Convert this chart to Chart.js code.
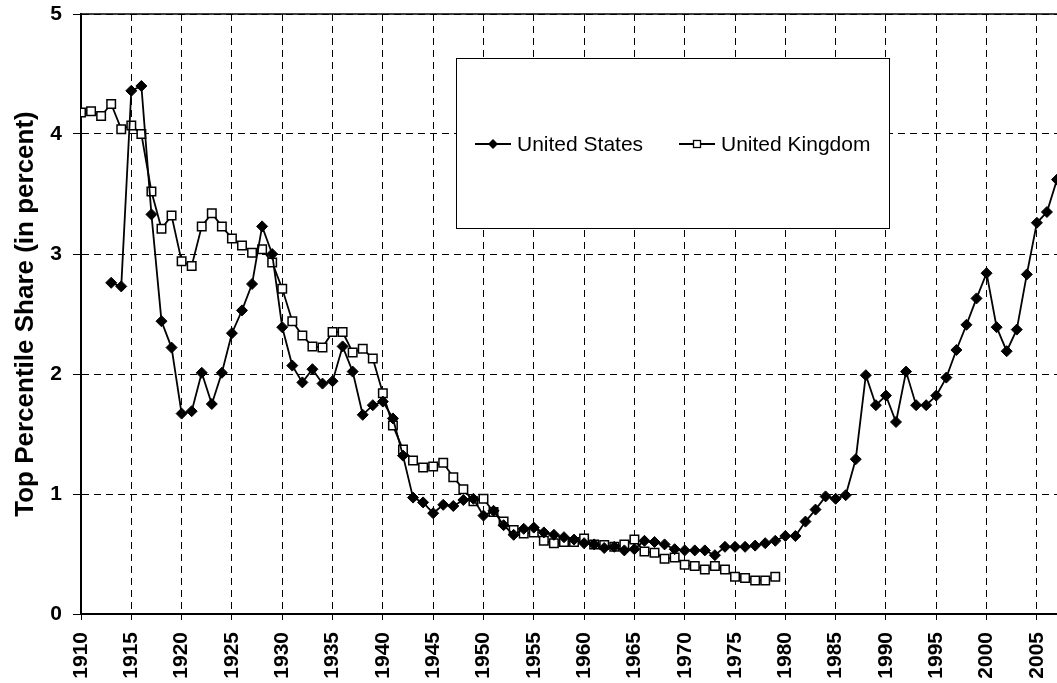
<!DOCTYPE html>
<html>
<head>
<meta charset="utf-8">
<script src="https://cdn.jsdelivr.net/npm/chart.js@4"></script>
<style>
  html, body { margin: 0; padding: 0; background: #fff; overflow: hidden; }
  #wrap { width: 1057px; height: 683px; position: relative; }
</style>
</head>
<body>
<div id="wrap"><canvas id="share-chart"></canvas></div>
<script>
// years on the category axis
const years = [];
for (let y = 1910; y <= 2007; y++) years.push(y);

// United States, 1913 - 2007 (nothing before 1913)
const usShare = [
  null, null, null, 2.76, 2.73, 4.36, 4.40, 3.33, 2.44, 2.22,   // 1910s
  1.67, 1.69, 2.01, 1.75, 2.01, 2.34, 2.53, 2.75, 3.23, 3.00,   // 1920s
  2.39, 2.07, 1.93, 2.04, 1.92, 1.94, 2.23, 2.02, 1.66, 1.74,   // 1930s
  1.77, 1.63, 1.32, 0.97, 0.93, 0.84, 0.91, 0.90, 0.95, 0.96,   // 1940s
  0.82, 0.86, 0.74, 0.66, 0.71, 0.72, 0.68, 0.66, 0.64, 0.62,   // 1950s
  0.59, 0.58, 0.55, 0.56, 0.53, 0.54, 0.61, 0.60, 0.58, 0.54,   // 1960s
  0.53, 0.53, 0.53, 0.49, 0.56, 0.56, 0.56, 0.57, 0.59, 0.61,   // 1970s
  0.65, 0.65, 0.77, 0.87, 0.98, 0.96, 0.99, 1.29, 1.99, 1.74,   // 1980s
  1.82, 1.60, 2.02, 1.74, 1.74, 1.82, 1.97, 2.20, 2.41, 2.63,   // 1990s
  2.84, 2.39, 2.19, 2.37, 2.83, 3.26, 3.35, 3.62                // 2000s
];

// United Kingdom, 1910 - 1979
const ukShare = [
  4.18, 4.19, 4.15, 4.25, 4.04, 4.07, 4.00, 3.52, 3.21, 3.32,
  2.94, 2.90, 3.23, 3.34, 3.23, 3.13, 3.07, 3.01, 3.04, 2.93,
  2.71, 2.44, 2.32, 2.23, 2.22, 2.35, 2.35, 2.18, 2.21, 2.13,
  1.84, 1.57, 1.37, 1.28, 1.22, 1.23, 1.26, 1.14, 1.04, 0.94,
  0.96, 0.85, 0.77, 0.70, 0.67, 0.68, 0.61, 0.59, 0.60, 0.60,
  0.63, 0.58, 0.575, 0.56, 0.58, 0.62, 0.52, 0.51, 0.46, 0.47,
  0.41, 0.40, 0.37, 0.40, 0.37, 0.31, 0.30, 0.28, 0.28, 0.31
];

const yTicks = [0, 1, 2, 3, 4, 5];
const xTicks = years.filter(y => y % 5 === 0);

const seriesNames = ['United States', 'United Kingdom'];

function toPoints(values) {
  const pts = [];
  values.forEach((v, i) => { if (v !== null) pts.push({ x: years[i], y: v }); });
  return pts;
}

const FONT = 'Liberation Sans, Arial, Helvetica, sans-serif';
const dash = [7, 5];

// Legend box drawn inside the plot (like the original sheet)
const boxLegend = {
  id: 'boxLegend',
  afterDatasetsDraw(chart) {
    const ctx = chart.ctx;
    const bx = 456, by = 58, bw = 433, bh = 170;
    ctx.save();
    ctx.fillStyle = '#fff';
    ctx.fillRect(bx, by, bw, bh);
    ctx.strokeStyle = '#000';
    ctx.lineWidth = 1;
    ctx.strokeRect(bx + 0.5, by + 0.5, bw, bh);

    const cy = 144;
    const items = [
      { x: 475, ds: chart.data.datasets[0] },
      { x: 679, ds: chart.data.datasets[1] }
    ];
    items.forEach(it => {
      ctx.strokeStyle = '#000';
      ctx.lineWidth = 1.8;
      ctx.beginPath();
      ctx.moveTo(it.x, cy);
      ctx.lineTo(it.x + 36, cy);
      ctx.stroke();
      const mx = it.x + 18;
      if (it.ds.pointStyle === 'rectRot') {
        ctx.fillStyle = '#000';
        ctx.beginPath();
        ctx.moveTo(mx - 5, cy); ctx.lineTo(mx, cy - 5);
        ctx.lineTo(mx + 5, cy); ctx.lineTo(mx, cy + 5);
        ctx.closePath();
        ctx.fill();
      } else {
        ctx.fillStyle = '#fff';
        ctx.lineWidth = 1.3;
        ctx.fillRect(mx - 3.5, cy - 3.5, 7, 7);
        ctx.strokeRect(mx - 3.5, cy - 3.5, 7, 7);
      }
      ctx.fillStyle = '#000';
      ctx.font = '21px ' + FONT;
      ctx.textBaseline = 'middle';
      ctx.textAlign = 'left';
      ctx.fillText(it.ds.label, it.x + 42, cy + 1);
    });
    ctx.restore();
  }
};

// solid frame line along the top of the plot area
const topFrame = {
  id: 'topFrame',
  afterDraw(chart) {
    const { ctx, chartArea } = chart;
    ctx.save();
    ctx.strokeStyle = '#000';
    ctx.lineWidth = 1.5;
    ctx.beginPath();
    ctx.moveTo(chartArea.left, chartArea.top);
    ctx.lineTo(chartArea.right, chartArea.top);
    ctx.stroke();
    ctx.restore();
  }
};

const ctx = document.getElementById('share-chart').getContext('2d');
const shareChart = new Chart(ctx, {
  type: 'line',
  data: {
    datasets: [
      {
        label: seriesNames[0],
        data: toPoints(usShare),
        borderColor: '#000',
        borderWidth: 1.8,
        pointStyle: 'rectRot',
        pointRadius: 5.5,
        pointBackgroundColor: '#000',
        pointBorderColor: '#000',
        pointBorderWidth: 1,
        tension: 0
      },
      {
        label: seriesNames[1],
        data: toPoints(ukShare),
        borderColor: '#000',
        borderWidth: 1.8,
        pointStyle: 'rect',
        pointRadius: 6,
        pointBackgroundColor: '#fff',
        pointBorderColor: '#000',
        pointBorderWidth: 1.5,
        tension: 0
      }
    ]
  },
  options: {
    responsive: true,
    maintainAspectRatio: false,
    animation: false,
    layout: { autoPadding: false, padding: { top: 14, right: 0, left: 0, bottom: 0 } },
    plugins: {
      legend: { display: false },
      tooltip: { enabled: false }
    },
    scales: {
      x: {
        type: 'linear',
        min: years[0],
        max: years[years.length - 1],
        afterFit: s => {
          s.height = 69;
          s.paddingLeft = 0;
          s.paddingRight = 0;
        },
        afterBuildTicks: s => { s.ticks = xTicks.map(v => ({ value: v })); },
        ticks: {
          minRotation: 90,
          maxRotation: 90,
          autoSkip: false,
          padding: 12,
          color: '#000',
          font: { family: FONT, size: 21, weight: 'bold' },
          callback: v => String(v)
        },
        grid: {
          color: '#000',
          lineWidth: 1,
          tickLength: 6,
          tickColor: '#000',
          tickBorderDash: []
        },
        border: { display: true, color: '#000', width: 2, dash: dash }
      },
      y: {
        min: yTicks[0],
        max: yTicks[yTicks.length - 1],
        afterFit: s => {
          s.width = 81;
          s.paddingTop = 0;
          s.paddingBottom = 0;
        },
        afterBuildTicks: s => { s.ticks = yTicks.map(v => ({ value: v })); },
        ticks: {
          padding: 11,
          color: '#000',
          font: { family: FONT, size: 21, weight: 'bold' }
        },
        grid: {
          color: '#000',
          lineWidth: 1,
          tickLength: 8,
          tickColor: '#000',
          tickBorderDash: []
        },
        border: { display: true, color: '#000', width: 2, dash: dash },
        title: {
          display: true,
          text: 'Top Percentile Share (in percent)',
          color: '#000',
          font: { family: FONT, size: 26, weight: 'bold' },
          padding: { top: 10, bottom: 0 }
        }
      }
    }
  },
  plugins: [boxLegend, topFrame]
});
</script>
</body>
</html>
